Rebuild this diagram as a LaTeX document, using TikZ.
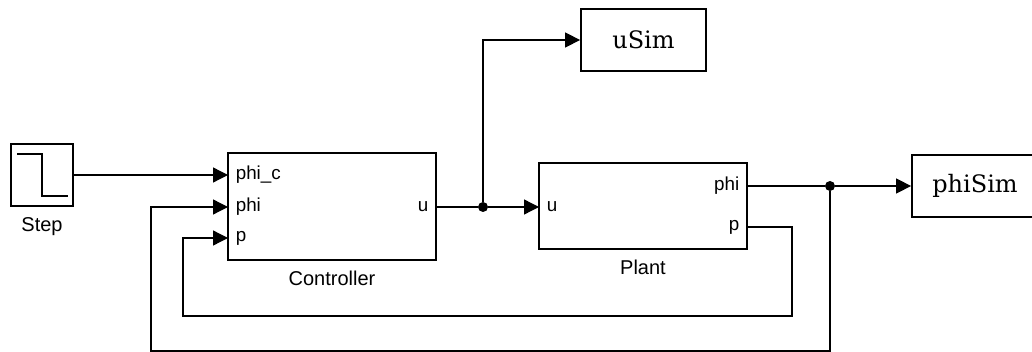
\documentclass[tikz,border=0pt]{standalone}
\usepackage{fontspec}
\newfontfamily\blockfont{Liberation Sans}
\newfontfamily\simfont{DejaVu Serif}
\usetikzlibrary{arrows.meta, positioning}

\begin{document}
\begin{tikzpicture}[x=0.5pt, y=-0.5pt,
    block/.style={draw, line width=1pt, inner sep=0pt},
    sink/.style={draw, line width=0.9pt, inner sep=0pt, minimum height=31pt,
        font=\simfont\fontsize{12}{14}\selectfont},
    port/.style={font=\blockfont\fontsize{9.4}{11}\selectfont, inner xsep=3.7pt, inner ysep=0pt},
    lbl/.style={font=\blockfont\fontsize{10}{12}\selectfont, inner sep=2pt},
    wire/.style={line width=0.65pt},
    sig/.style={wire, -{Triangle[length=7.5pt, width=7.5pt]}},
    junction/.style={circle, fill, inner sep=0pt, minimum size=5pt}]

    \useasboundingbox (0,0) rectangle (1032,352);
    \clip (0,0) rectangle (1032,352);

    % blocks
    \node[block, minimum width=31pt, minimum height=31pt] (step) at (42,175) {};
    \draw[wire, line width=0.8pt] (17,154) -- (42,154) -- (42,196) -- (68,196);
    \node[lbl, below=3pt of step] (steplbl) {Step};

    \node[block, minimum width=104pt, minimum height=53.5pt] (ctrl) at (332,206.5) {};
    \node[lbl, below=3pt of ctrl] (ctrllbl) {Controller};
    \node[port, anchor=west] (cphic) at (228,175) {phi\_c};
    \node[port, anchor=west] (cphi) at (228,207) {phi};
    \node[port, anchor=west] (cp) at (228,238) {p};
    \node[port, anchor=east] (cu) at (436,207) {u};

    \node[block, minimum width=104pt, minimum height=43pt] (plant) at (643,206) {};
    \node[lbl, below=3pt of plant] (plantlbl) {Plant};
    \node[port, anchor=west] (pu) at (539,207) {u};
    \node[port, anchor=east] (pphi) at (747,186) {phi};
    \node[port, anchor=east] (pp) at (747,227) {p};

    \node[sink, minimum width=62.5pt] (usim) at (643.5,40) {uSim};
    \node[sink, minimum width=63pt] (phisim) at (975,186) {phiSim};

    % junctions
    \node[junction] (j1) at (483,207) {};
    \node[junction] (j2) at (830,186) {};

    % signals
    \draw[sig] (step.east) -- (cphic.west);
    \draw[wire] (cu.east) -- (j1);
    \draw[sig] (j1) -- (pu.west);
    \draw[sig] (j1) |- (usim.west);
    \draw[wire] (pphi.east) -- (j2);
    \draw[sig] (j2) -- (phisim.west);

    % feedback loops
    \coordinate (pR) at (792,316);
    \coordinate (pL) at (183,316);
    \draw[sig] (pp.east) -| (pR) -- (pL) |- (cp.west);
    \coordinate (fbR) at (830,351);
    \coordinate (fbL) at (151,351);
    \draw[sig] (j2) -- (fbR) -- (fbL) |- (cphi.west);
\end{tikzpicture}
\end{document}
